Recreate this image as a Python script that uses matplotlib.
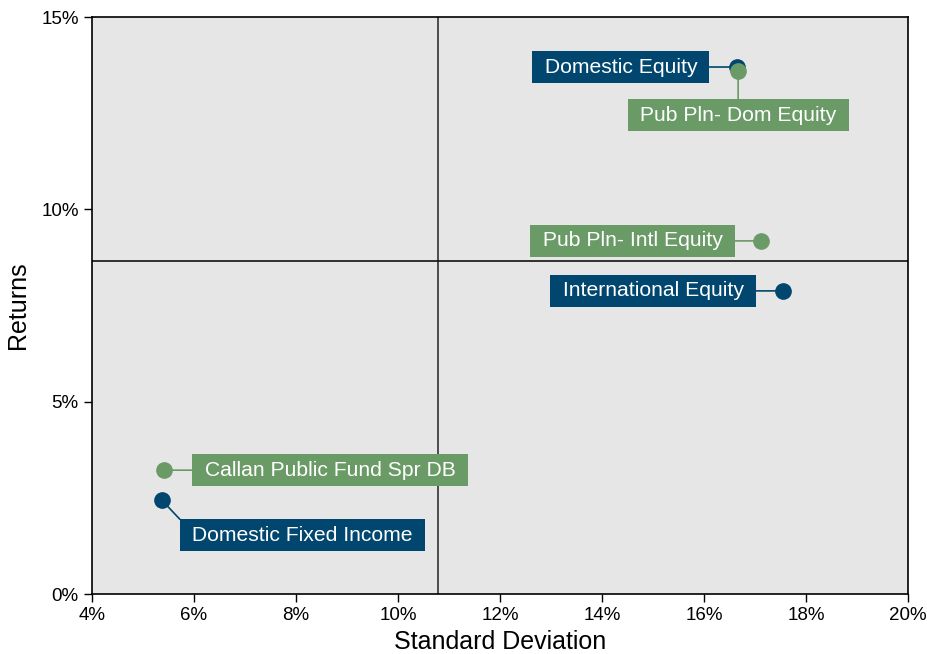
import matplotlib.pyplot as plt
from matplotlib.ticker import FuncFormatter

plt.rcParams['font.family'] = ['Liberation Sans', 'DejaVu Sans']

# asset classes (navy) and peer groups (green)
names = ['Domestic Equity', 'International Equity', 'Domestic Fixed Income',
         'Pub Pln- Dom Equity', 'Pub Pln- Intl Equity', 'Callan Public Fund Spr DB']
std_dev = [16.65, 17.55, 5.37, 16.67, 17.12, 5.41]
returns = [13.70, 7.88, 2.44, 13.60, 9.18, 3.22]
groups = ['asset', 'asset', 'asset', 'peer', 'peer', 'peer']

# label positions (data coords) and where the leader line leaves the box
label_x = [14.37, 15.0, 8.12, 16.67, 14.6, 8.67]
label_y = [13.70, 7.88, 1.53, 12.45, 9.18, 3.22]
relpos = [(1, 0.5), (1, 0.5), (0, 1), (0.5, 1), (1, 0.5), (0, 0.5)]

avg_std = 10.78
avg_ret = 8.66

colors = {'asset': '#00466E', 'peer': '#6A9B67'}

fig = plt.figure(figsize=(9.28, 6.54), dpi=100)
ax = fig.add_axes([0.0991, 0.0917, 0.8793, 0.8823])
ax.set_facecolor('#E6E6E6')

ax.axvline(avg_std, color='#333333', lw=1.2, zorder=1)
ax.axhline(avg_ret, color='#111111', lw=1.2, zorder=1)

for i in range(len(names)):
    c = colors[groups[i]]
    ax.plot(std_dev[i], returns[i], 'o', ms=11, color=c, zorder=4)
    ax.annotate(' ' + names[i] + ' ', xy=(std_dev[i], returns[i]),
                xytext=(label_x[i], label_y[i]),
                ha='center', va='center', color='white', fontsize=15.2, zorder=3,
                bbox=dict(boxstyle='square,pad=0.3', fc=c, ec='none'),
                arrowprops=dict(arrowstyle='-', color=c, lw=1.2, shrinkA=0, shrinkB=0,
                                relpos=relpos[i]))

ax.set_xlim(4, 20)
ax.set_ylim(0, 15)
ax.set_xticks(range(4, 21, 2))
ax.set_yticks([0, 5, 10, 15])
pct = FuncFormatter(lambda v, p: f'{v:.0f}%')
ax.xaxis.set_major_formatter(pct)
ax.yaxis.set_major_formatter(pct)
ax.tick_params(direction='out', length=6, width=1, labelsize=13.5, colors='black')
for s in ax.spines.values():
    s.set_color('black')
    s.set_linewidth(1.2)

ax.set_xlabel('Standard Deviation', fontsize=18, labelpad=4)
ax.set_ylabel('Returns', fontsize=18, labelpad=8)

fig.savefig('out.png', dpi=100)
